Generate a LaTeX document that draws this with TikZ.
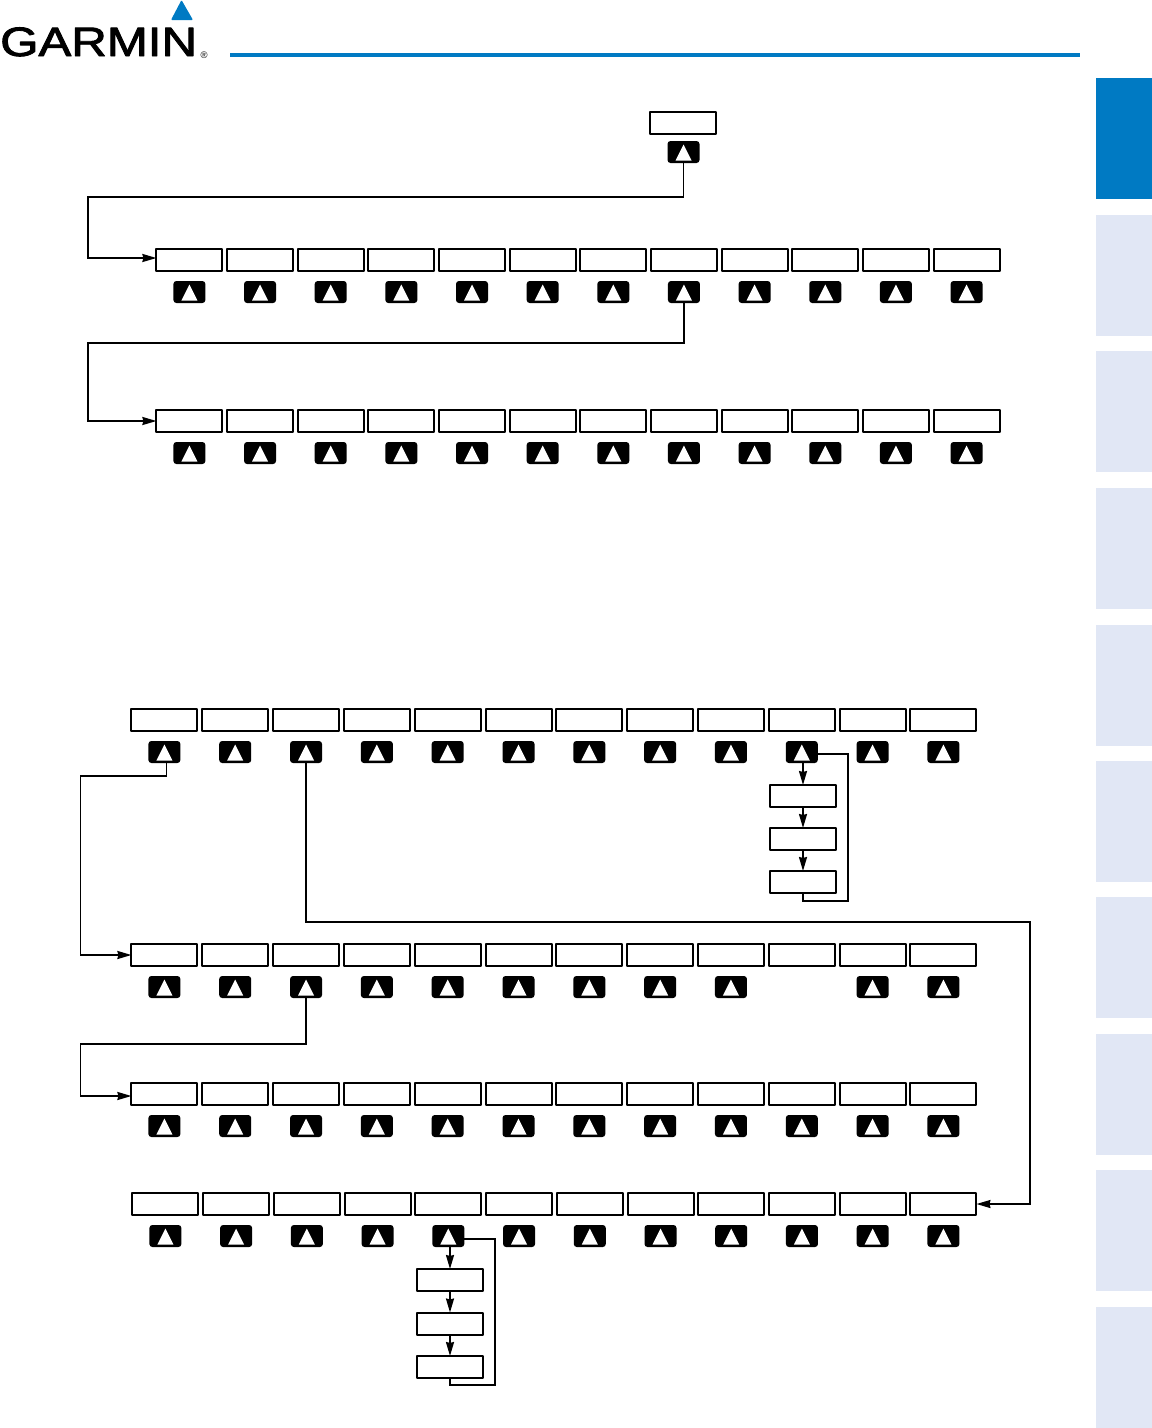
\documentclass[tikz,border=0pt]{standalone}
\usepackage{fontspec}
\setmainfont{Liberation Sans}
\newfontfamily\logofont[FakeBold=2]{Liberation Sans}
\usetikzlibrary{arrows.meta}
\definecolor{garminblue}{HTML}{007AC3}
\definecolor{tablight}{HTML}{E1E7F5}
\tikzset{
    softbox/.style={draw=black,line width=2pt,fill=white,minimum width=66pt,minimum height=22pt,inner sep=0pt,outer sep=0pt},
    softkey/.style={fill=black,rounded corners=3pt,minimum width=32pt,minimum height=22pt,inner sep=0pt,outer sep=0pt,
        path picture={\fill[white,sharp corners,line join=miter]
            ([xshift=-8pt,yshift=-8.5pt]path picture bounding box.center)--
            ([xshift=8pt,yshift=-8.5pt]path picture bounding box.center)--
            ([yshift=7.5pt]path picture bounding box.center)--cycle;}},
    flow/.style={line width=1.8pt,line join=miter},
    flowarrow/.style={flow,-{Stealth[length=14pt,width=8pt,inset=1pt]}},
}
% row name, left edge, top edge, softkey left out, pitch
\newcommand{\softrow}[5]{
    \foreach \i in {1,...,12}{
        \node[softbox] (#1\i) at ({#2+33.4+(\i-1)*#5},#3+11) {};
        \ifnum\i=#4\else
            \node[softkey] (k#1\i) at ({#2+33.4+(\i-1)*#5},#3+43) {};
        \fi
    }
}
\begin{document}
\begin{tikzpicture}[x=1pt,y=-1pt,line join=round]
    \useasboundingbox (0,0) rectangle (1152,1428);
    % header
    \node[anchor=base west,inner sep=0pt,font=\logofont\fontsize{41}{41}\selectfont,xscale=1.2] (logo) at (0,56) {GARMIN};
    \node[anchor=base west,inner sep=0pt,font=\fontsize{9.5}{9.5}\selectfont] (reg) at (200.5,58) {®};
    \fill[garminblue,rounded corners=1pt] (171,20)--(193,20)--(181.5,0)--cycle;
    \fill[garminblue] (230,52.5) rectangle (1080,57);
    % tabs
    \fill[garminblue] (1096,78) rectangle (1152,199);
    \foreach \y in {215,351,488,625,761,897,1034,1170,1307}{
        \fill[tablight] (1096,\y) rectangle +(56,121);
    }
    % top softkey
    \node[softbox] (top) at (683,123) {};
    \node[softkey] (ktop) at (683.5,152) {};
    % rows
    \softrow{a}{156}{249}{0}{70.65}
    \softrow{b}{156}{410}{0}{70.65}
    \softrow{c}{131}{709}{0}{70.82}
    \softrow{d}{131}{944}{10}{70.82}
    \softrow{e}{131}{1083}{0}{70.82}
    \softrow{f}{132}{1193}{0}{70.73}
    % stacks under softkeys
    \node[softbox] (s1) at (803,796) {};
    \node[softbox] (s2) at (803,839) {};
    \node[softbox] (s3) at (803,882) {};
    \node[softbox] (t1) at (450,1280) {};
    \node[softbox] (t2) at (450,1323.5) {};
    \node[softbox] (t3) at (450,1367) {};
    % corners
    \coordinate (c1) at (88,197);
    \coordinate (c2) at (88,343);
    \coordinate (c3) at (80.5,776);
    \coordinate (c4) at (1030,922);
    \coordinate (c5) at (80.5,1044);
    \coordinate (c6) at (848,901);
    \coordinate (c7) at (495,1385);
    % connectors
    \draw[flowarrow] (ktop.south) |- (c1) |- ([yshift=2pt]a1.west);
    \draw[flowarrow] (ka8.south) |- (c2) |- (b1.west);
    \draw[flowarrow] ([xshift=2pt]kc1.south) |- (c3) |- (d1.west);
    \draw[flowarrow] (kc3.south) |- (c4) |- (f12.east);
    \draw[flowarrow] (kd3.south) |- (c5) |- ([yshift=-2pt]e1.west);
    \draw[flowarrow] (s1.north|-kc10.south) -- (s1.north);
    \draw[flowarrow] (s1.south) -- (s2.north);
    \draw[flowarrow] (s2.south) -- (s3.north);
    \draw[flow] (s3.south) |- (c6) |- ([yshift=-2pt]kc10.east);
    \draw[flowarrow] (t1.north|-kf5.south) -- (t1.north);
    \draw[flowarrow] (t1.south) -- (t2.north);
    \draw[flowarrow] (t2.south) -- (t3.north);
    \draw[flow] (t3.south) |- (c7) |- ([yshift=-3pt]kf5.east);
\end{tikzpicture}
\end{document}
